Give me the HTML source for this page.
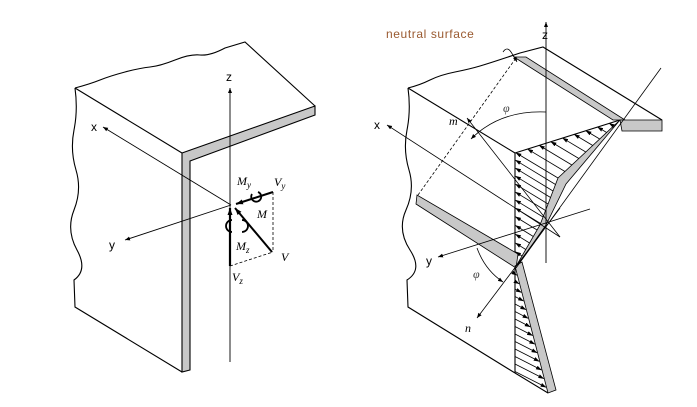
<!DOCTYPE html>
<html><head><meta charset="utf-8"><style>
html,body{margin:0;padding:0;background:#fff;}
svg{display:block;}
text{font-family:"Liberation Sans",sans-serif;}
.it{font-family:"Liberation Serif",serif;font-style:italic;}
</style></head><body>
<svg id="sv" width="697" height="407" viewBox="0 0 697 407" xmlns="http://www.w3.org/2000/svg">
<defs>
<marker id="a" markerWidth="8" markerHeight="6" refX="7" refY="3" orient="auto" markerUnits="userSpaceOnUse"><path d="M0,0.5 L7,3 L0,5.5 Z" fill="#000"/></marker>
<marker id="s" markerWidth="6" markerHeight="5" refX="5" refY="2.5" orient="auto" markerUnits="userSpaceOnUse"><path d="M0,0.5 L5,2.5 L0,4.5 Z" fill="#000"/></marker>
<marker id="h" markerWidth="6" markerHeight="4" refX="5.5" refY="2" orient="auto" markerUnits="userSpaceOnUse"><path d="M0,0 L6,2 L0,4 Z" fill="#000"/></marker>
</defs>
<g stroke="#000" fill="none" stroke-width="1.1">
<!-- LEFT FIGURE -->
<path d="M75,88 Q90,84 100,80 T125,72 T150,67 T175,60 T200,55 T225,48 L245,42 L315,106"/>
<path d="M75,88 Q78,110 74,130 T76,170 T74,210 T77,250 T74,280 L75,307 L182,372"/>
<line x1="75" y1="88" x2="182" y2="153"/>
<polygon points="182,153 315,106 315,115 190,161 190,370 182,372" fill="#c8c8c8"/>
<line x1="230" y1="362" x2="230" y2="88" marker-end="url(#s)" stroke-width="0.9"/>
<line x1="231" y1="205" x2="103" y2="127" marker-end="url(#s)" stroke-width="0.9"/>
<line x1="231" y1="205" x2="125" y2="240" marker-end="url(#s)" stroke-width="0.9"/>
<line x1="273" y1="192" x2="273" y2="252" stroke-dasharray="3,2" stroke-width="0.8"/>
<line x1="230" y1="266" x2="273" y2="252" stroke-dasharray="3,2" stroke-width="0.8"/>
<line x1="273" y1="192" x2="236" y2="204" stroke-width="2" marker-end="url(#a)"/>
<line x1="272" y1="252" x2="235" y2="208" stroke-width="2" marker-end="url(#a)"/>
<line x1="230" y1="266" x2="230" y2="208" stroke-width="2.2" marker-end="url(#a)"/>
<path d="M252,194 A5,5 0 1 0 258,192" stroke-width="1.8"/>
<path d="M232,220 A5,5 0 1 0 232,232" stroke-width="1.8"/>
<path d="M242,220 A5,5 0 1 1 242,232" stroke-width="1.8"/>
<!-- RIGHT FIGURE -->
<path d="M408,88 Q420,85 430,80 T455,72 T480,66 T505,58 L520,53 L543,47 L662,120"/>
<path d="M408,88 Q411,110 407,130 T409,170 T406,210 T410,250 T407,280 L408,307 L515,373"/>
<line x1="408" y1="88" x2="515" y2="153"/>
<line x1="515" y1="153" x2="515" y2="373"/>
<line x1="515" y1="153" x2="620" y2="120"/>
<polygon points="514,57 526,57 625,120 613,120" fill="#c8c8c8" stroke-width="0.8"/>
<polygon points="620,120 662,120 662,131 622,131" fill="#c8c8c8" stroke-width="0.8"/>
<polygon points="417,195 416,204 516,268 518,254" fill="#c8c8c8" stroke-width="0.8"/>
<polygon points="620,120 558,178 540,225 515,268 520,262 546,225 566,184" fill="#c8c8c8" stroke-width="0.8"/>
<polygon points="515,266 522,262 556,390 548,393" fill="#c8c8c8" stroke-width="0.8"/>
<line x1="515" y1="373" x2="548" y2="393"/>
<line x1="418" y1="195" x2="516" y2="58" stroke-dasharray="3,2" stroke-width="0.8"/>
<line x1="546" y1="263" x2="546" y2="22" marker-end="url(#s)" stroke-width="0.9"/>
<line x1="560" y1="237" x2="387" y2="125" marker-end="url(#s)" stroke-width="0.8"/>
<line x1="590" y1="209" x2="438" y2="257" marker-end="url(#s)" stroke-width="0.8"/>
<line x1="560" y1="237" x2="467" y2="118" marker-end="url(#s)" stroke-width="0.8"/>
<line x1="560" y1="208" x2="477" y2="318" marker-end="url(#s)" stroke-width="0.8"/>
<line x1="661" y1="68" x2="516" y2="268" stroke-width="0.8"/>
<path d="M546,112 Q500,110 471,139" marker-end="url(#s)" stroke-width="0.8"/>
<path d="M477,248 Q485,270 503,282" marker-end="url(#s)" stroke-width="0.8"/>
<path d="M503,52 q4,-6 8,0 t6,10" marker-end="url(#s)" stroke-width="0.8"/>
<g id="hatch" stroke-width="0.8"></g>
</g>
<g font-size="12" fill="#000">
<text x="226" y="81">z</text><text x="91" y="131">x</text><text x="109" y="249">y</text>
<text class="it" x="237" y="185" font-size="12">M<tspan font-size="9" dy="3">y</tspan></text>
<text class="it" x="274" y="186" font-size="12">V<tspan font-size="9" dy="3">y</tspan></text>
<text class="it" x="257" y="218" font-size="12">M</text>
<text class="it" x="236" y="250" font-size="12">M<tspan font-size="9" dy="3">z</tspan></text>
<text class="it" x="281" y="261" font-size="12">V</text>
<text class="it" x="232" y="281" font-size="12">V<tspan font-size="9" dy="3">z</tspan></text>
<text x="542" y="39">z</text><text x="374" y="129">x</text><text x="426" y="265">y</text>
<text class="it" x="449" y="125">m</text><text class="it" x="465" y="332">n</text>
<text class="it" x="503" y="112" fill="#444">φ</text><text class="it" x="473" y="278" fill="#444">φ</text>
<text x="386" y="38" fill="#9a5a30" font-size="12" letter-spacing="0.6">neutral surface</text>
</g>
</svg>
<script>
(function(){
var g=document.getElementById('hatch'),ns='http://www.w3.org/2000/svg';
function ln(x1,y1,x2,y2){var l=document.createElementNS(ns,'line');l.setAttribute('x1',x1);l.setAttribute('y1',y1);l.setAttribute('x2',x2);l.setAttribute('y2',y2);l.setAttribute('marker-end','url(#h)');g.appendChild(l);}
var poly=[[620,120],[558,178],[540,225],[515,268]];
function xAt(y){for(var i=0;i<poly.length-1;i++){var a=poly[i],b=poly[i+1];if(y>=a[1]&&y<=b[1]){return a[0]+(b[0]-a[0])*(y-a[1])/(b[1]-a[1]);}}return 515;}
var k=0.6,m=33/105;
for(var y=126;y<262;y+=6.5){var px=xAt(y);var ey=y-k*(px-515);
 if(ey>=153){ln(px,y,515.5,ey);}else{var x=(153-y+k*px+m*515)/(k+m);ln(px,y,x,153-m*(x-515));}}
for(var y=274;y<372;y+=7.5){var x=(515+(33/127)*(y-266)*1-(33/127)*0);
 /* solve: bx = 515+(yy-266)*33/127 ; yy = y+0.5*(bx-515) */
 var r=33/127;var bx=(515+r*(y-266)-0.5*r*515)/(1-0.5*r);var by=y+0.5*(bx-515);ln(515,y,bx-0.5,by);}
})();
</script>
</body></html>
